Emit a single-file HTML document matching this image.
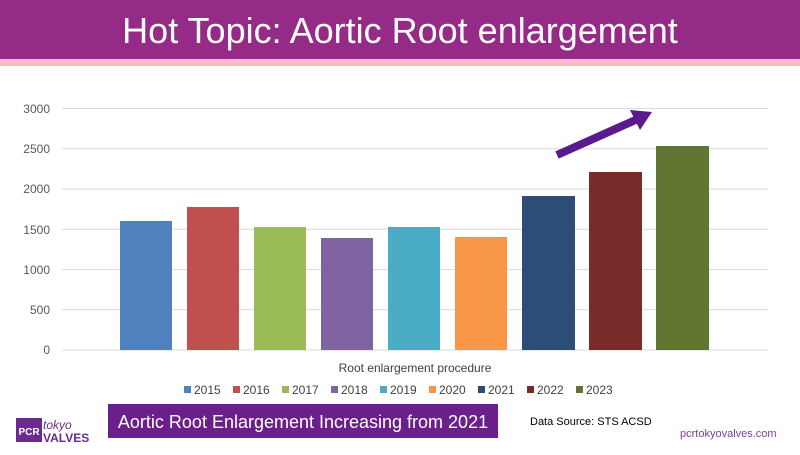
<!DOCTYPE html>
<html><head><meta charset="utf-8"><style>
body{margin:0;width:800px;height:450px;overflow:hidden;background:#fff;font-family:"Liberation Sans",sans-serif;}
</style></head><body>
<svg width="800" height="450" xmlns="http://www.w3.org/2000/svg" font-family="Liberation Sans, sans-serif">
<rect x="0" y="0" width="800" height="59" fill="#952a87"/>
<rect x="0" y="59" width="800" height="7" fill="#fbbcc0"/>
<text x="400" y="43" font-size="36" fill="#fff" text-anchor="middle">Hot Topic: Aortic Root enlargement</text>
<g stroke="#d9d9d9" stroke-width="1">
<line x1="62" x2="768" y1="108.5" y2="108.5"/><line x1="62" x2="768" y1="148.8" y2="148.8"/>
<line x1="62" x2="768" y1="189" y2="189"/><line x1="62" x2="768" y1="229.3" y2="229.3"/>
<line x1="62" x2="768" y1="269.6" y2="269.6"/><line x1="62" x2="768" y1="309.8" y2="309.8"/>
<line x1="62" x2="768" y1="350" y2="350"/></g>
<g font-size="12" fill="#595959" text-anchor="end">
<text x="50" y="113">3000</text><text x="50" y="153">2500</text><text x="50" y="193">2000</text>
<text x="50" y="234">1500</text><text x="50" y="274">1000</text><text x="50" y="314">500</text><text x="50" y="354">0</text></g>
<rect x="120" y="221" width="52" height="129" fill="#4f81bd"/>
<rect x="187" y="207" width="52" height="143" fill="#c0504d"/>
<rect x="254" y="227" width="52" height="123" fill="#9bbb59"/>
<rect x="321" y="238" width="52" height="112" fill="#8064a2"/>
<rect x="388" y="227" width="52" height="123" fill="#4bacc6"/>
<rect x="455" y="237" width="52" height="113" fill="#f79646"/>
<rect x="522" y="196" width="53" height="154" fill="#2c4d75"/>
<rect x="589" y="172" width="53" height="178" fill="#772c2a"/>
<rect x="656" y="146" width="53" height="204" fill="#5f7530"/>
<text x="415" y="372" font-size="12" fill="#404040" text-anchor="middle">Root enlargement procedure</text>
<line x1="557" y1="155" x2="640" y2="118" stroke="#5b1a8c" stroke-width="8"/>
<polygon points="652,112 630,110 640,130" fill="#5b1a8c"/>
<g font-size="12" fill="#404040">
<rect x="184" y="386" width="7" height="7" fill="#4f81bd"/><text x="194" y="394">2015</text>
<rect x="233" y="386" width="7" height="7" fill="#c0504d"/><text x="243" y="394">2016</text>
<rect x="282" y="386" width="7" height="7" fill="#9bbb59"/><text x="292" y="394">2017</text>
<rect x="331" y="386" width="7" height="7" fill="#8064a2"/><text x="341" y="394">2018</text>
<rect x="380" y="386" width="7" height="7" fill="#4bacc6"/><text x="390" y="394">2019</text>
<rect x="429" y="386" width="7" height="7" fill="#f79646"/><text x="439" y="394">2020</text>
<rect x="478" y="386" width="7" height="7" fill="#2c4d75"/><text x="488" y="394">2021</text>
<rect x="527" y="386" width="7" height="7" fill="#772c2a"/><text x="537" y="394">2022</text>
<rect x="576" y="386" width="7" height="7" fill="#5f7530"/><text x="586" y="394">2023</text></g>
<rect x="16" y="418" width="26" height="24" fill="#6a2a8f"/>
<text x="29" y="435" font-size="10" fill="#fff" text-anchor="middle" font-weight="bold">PCR</text>
<text x="43" y="429" font-size="12" fill="#6a2a8f" font-style="italic">tokyo</text>
<text x="43" y="442" font-size="12" fill="#6a2a8f" font-weight="bold">VALVES</text>
<rect x="108" y="404" width="390" height="34" fill="#6a1f8a"/>
<text x="303" y="428" font-size="18" fill="#fff" text-anchor="middle">Aortic Root Enlargement Increasing from 2021</text>
<text x="530" y="425" font-size="11" fill="#000">Data Source: STS ACSD</text>
<text x="680" y="437" font-size="11" fill="#7a3f9a">pcrtokyovalves.com</text>
</svg>
</body></html>
